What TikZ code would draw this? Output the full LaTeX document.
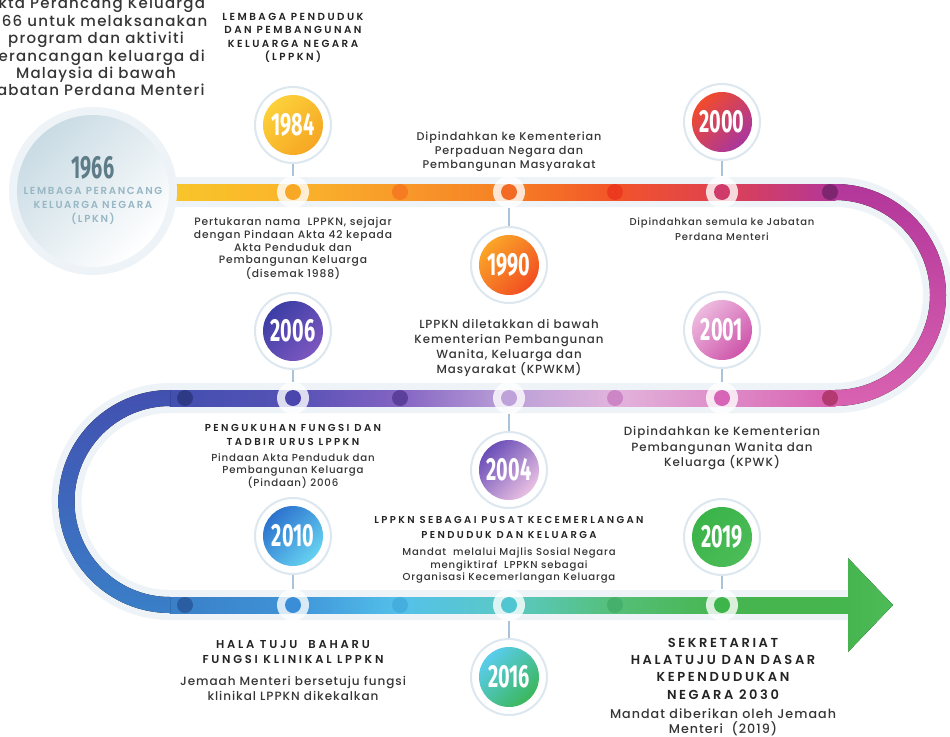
\documentclass[tikz,border=0pt]{standalone}
\usepackage{fontspec}
\setmainfont{Poppins}[UprightFont=* Medium, BoldFont=* SemiBold, LetterSpace=8]
\newfontfamily\yearfont[FakeStretch=0.62]{Fira Sans}

\definecolor{haloGrey}{HTML}{EDF3F6}
\definecolor{ringLine}{HTML}{DCE7EF}
\definecolor{linkBlue}{HTML}{A9C3DA}
\definecolor{ink}{HTML}{353535}
\definecolor{headInk}{HTML}{232323}
\definecolor{disc1966}{HTML}{C9DBE4}
\definecolor{year1966}{HTML}{5E7C88}
\definecolor{sub1966}{HTML}{97B7C4}

\definecolor{ra}{HTML}{F9C82B}
\definecolor{rb}{HTML}{FAB42A}
\definecolor{rc}{HTML}{F8992A}
\definecolor{rd}{HTML}{F67F24}
\definecolor{re}{HTML}{F2542A}
\definecolor{rf}{HTML}{DE4150}
\definecolor{rg}{HTML}{B3369A}
\definecolor{sa}{HTML}{D962B1}
\definecolor{sb}{HTML}{DE8CC8}
\definecolor{sc}{HTML}{E2B4DC}
\definecolor{sd}{HTML}{BBA0D8}
\definecolor{se}{HTML}{8464C3}
\definecolor{sf}{HTML}{5651B5}
\definecolor{sg}{HTML}{4250B0}
\definecolor{ta}{HTML}{3A7FC8}
\definecolor{tb}{HTML}{3F93D8}
\definecolor{tc}{HTML}{54C1EA}
\definecolor{td}{HTML}{5AC9C4}
\definecolor{te}{HTML}{55BF78}
\definecolor{tf}{HTML}{47B54F}
\definecolor{tg}{HTML}{45B54D}

\definecolor{pa}{HTML}{F57C20}
\definecolor{pb}{HTML}{EC3A1F}
\definecolor{pc}{HTML}{7E2570}
\definecolor{pd}{HTML}{B23A70}
\definecolor{pe}{HTML}{CC86C6}
\definecolor{pf}{HTML}{5C3F9A}
\definecolor{pg}{HTML}{2E3A86}
\definecolor{ph}{HTML}{2A5DA2}
\definecolor{pi}{HTML}{45AEDF}
\definecolor{pj}{HTML}{45B06B}

\definecolor{ya}{HTML}{FCD13A}\definecolor{yb}{HTML}{F6A623}\definecolor{yc}{HTML}{F9A825}
\definecolor{yd}{HTML}{FAA528}\definecolor{ye}{HTML}{F24E22}\definecolor{yf}{HTML}{F26A24}
\definecolor{yg}{HTML}{F24B2C}\definecolor{yh}{HTML}{A8369E}\definecolor{yi}{HTML}{CF3A6A}
\definecolor{yj}{HTML}{3B3EA5}\definecolor{yk}{HTML}{7C57BF}\definecolor{yl}{HTML}{4B46AE}
\definecolor{ym}{HTML}{6A4EB8}\definecolor{yn}{HTML}{E9C0E2}\definecolor{yo}{HTML}{BFA2DA}
\definecolor{yp}{HTML}{EDBADF}\definecolor{yq}{HTML}{CE55AB}\definecolor{yr}{HTML}{D864B8}
\definecolor{ys}{HTML}{2C72CE}\definecolor{yt}{HTML}{66D2F1}\definecolor{yu}{HTML}{3A8ED8}
\definecolor{yv}{HTML}{5ACDEE}\definecolor{yw}{HTML}{3BB75A}\definecolor{yx}{HTML}{4FC6D2}
\definecolor{yy}{HTML}{3AB449}\definecolor{yz}{HTML}{4CBC58}\definecolor{y0}{HTML}{3DB54A}

\tikzset{
	trackhalo/.style={draw=haloGrey, line width=30pt},
	trackdot/.style={circle, inner sep=0pt, minimum size=16pt, fill=#1},
	trackring/.style={circle, inner sep=0pt, minimum size=32pt, fill=white, fill opacity=0.8},
	yearring/.style={circle, inner sep=0pt, minimum size=76pt, fill=white, draw=ringLine, line width=2pt},
	yearbadge/.style 2 args={circle, inner sep=0pt, minimum size=60pt, top color=#1, bottom color=#2, shading angle=45, text=white, font=\yearfont\bfseries\fontsize{32}{32}\selectfont},
	linkline/.style={draw=linkBlue, line width=1.2pt},
	note/.style={align=center, inner sep=0pt, anchor=north, text=ink},
	head/.style={note, text=headInk}
}

\begin{document}
\begin{tikzpicture}[x=1pt, y=-1pt]
	\useasboundingbox (0,0) rectangle (950,736);
	\clip (0,0) rectangle (950,736);

	\draw[trackhalo] (150,192) -- (835,192) arc[start angle=-90, end angle=90, radius=103] -- (170,398) arc[start angle=-90, end angle=-270, radius=103.5] -- (850,605);

	\foreach \xa/\xb/\ca/\cb in {150/293.5/ra/rb, 293/400.5/rb/rc, 400/509.5/rc/rd, 509/615.5/rd/re, 615/722.5/re/rf, 722/835.5/rf/rg}
		\fill[left color=\ca, right color=\cb] (\xa,184) rectangle (\xb,200);
	\foreach \xa/\xb/\ca/\cb in {169.5/293.5/sg/sf, 293/400.5/sf/se, 400/509.5/se/sd, 509/615.5/sd/sc, 615/722.5/sc/sb, 722/835.5/sb/sa}
		\fill[left color=\ca, right color=\cb] (\xa,390) rectangle (\xb,406);
	\foreach \xa/\xb/\ca/\cb in {169.5/293.5/ta/tb, 293/400.5/tb/tc, 400/509.5/tc/td, 509/615.5/td/te, 615/722.5/te/tf, 722/852/tf/tg}
		\fill[left color=\ca, right color=\cb] (\xa,597) rectangle (\xb,613);

	\fill[top color=rg, bottom color=sa] (835,184) arc[start angle=-90, end angle=90, radius=111] -- (835,390) arc[start angle=90, end angle=-90, radius=95] -- cycle;
	\fill[top color=sg, bottom color=ta] (170,390) arc[start angle=-90, end angle=-270, radius=111.5] -- (170,597) arc[start angle=-270, end angle=-90, radius=95.5] -- cycle;
	\fill[left color=tf, right color=yz] (848,558) -- (893,605) -- (848,652) -- cycle;

	\foreach \x/\y/\c [count=\i] in {400/192/pa, 615/192/pb, 830/192/pc, 830/398/pd, 615/398/pe, 400/398/pf, 185/398/pg, 185/605/ph, 400/605/pi, 615/605/pj}
		\node[trackdot=\c] (p\i) at (\x,\y) {};

	\foreach \yr/\bx/\by/\ty/\ca/\cb/\cd in {1984/293/125/192/ya/yb/yc, 1990/509/265/192/yd/ye/yf, 2000/722/122/192/yg/yh/yi, 2006/293/331/398/yj/yk/yl, 2004/509/470/398/ym/yn/yo, 2001/722/330/398/yp/yq/yr, 2010/293/536/605/ys/yt/yu, 2016/509/677/605/yv/yw/yx, 2019/722/537/605/yy/yz/y0}
	{
		\node[trackring] (t\yr) at (\bx,\ty) {};
		\node[trackdot=\cd] (d\yr) at (\bx,\ty) {};
		\node[yearring] (r\yr) at (\bx,\by) {};
		\node[yearbadge={\ca}{\cb}] (y\yr) at (\bx,\by) {\yr};
		\draw[linkline] (r\yr) -- (t\yr);
	}

	\node[circle, inner sep=0pt, minimum size=168pt, fill=haloGrey] (o1966) at (93,191) {};
	\node[circle, inner sep=0pt, minimum size=152pt, top color=disc1966, bottom color=white, shading angle=45] (c1966) at (93,191) {};
	\node[text=year1966, font=\yearfont\bfseries\fontsize{32}{32}\selectfont] (y1966) at (93,168) {1966};
	\node[note, text=sub1966, font=\bfseries\fontsize{10.2}{13.9}\selectfont\addfontfeature{LetterSpace=16}] (s1966) at (93,187) {LEMBAGA PERANCANG\\KELUARGA NEGARA\\(LPKN)};

	\node[note, font=\fontsize{15}{17.4}\selectfont] (intro) at (96,-2.5) {Akta Perancang Keluarga\\1966 untuk melaksanakan\\program dan aktiviti\\perancangan keluarga di\\Malaysia di bawah\\Jabatan Perdana Menteri};

	\node[head, font=\bfseries\fontsize{10.3}{13.5}\selectfont\addfontfeature{LetterSpace=24}] (h1984) at (293,13) {LEMBAGA PENDUDUK\\DAN PEMBANGUNAN\\KELUARGA NEGARA\\(LPPKN)};
	\node[note, font=\fontsize{10.7}{12.8}\selectfont] (n1984) at (293,217) {Pertukaran nama~ LPPKN, sejajar\\dengan Pindaan Akta 42 kepada\\Akta Penduduk dan\\Pembangunan Keluarga\\(disemak 1988)};

	\node[note, font=\fontsize{11.2}{14.2}\selectfont] (a1990) at (509,131.5) {Dipindahkan ke Kementerian\\Perpaduan Negara dan\\Pembangunan Masyarakat};
	\node[note, font=\fontsize{11.8}{15.2}\selectfont] (n1990) at (509,319) {LPPKN diletakkan di bawah\\Kementerian Pembangunan\\Wanita, Keluarga dan\\Masyarakat (KPWKM)};

	\node[note, font=\fontsize{10}{14.3}\selectfont] (n2000) at (722,218) {Dipindahkan semula ke Jabatan\\Perdana Menteri};
	\node[note, font=\fontsize{11.9}{15.5}\selectfont] (n2001) at (722,426.5) {Dipindahkan ke Kementerian\\Pembangunan Wanita dan\\Keluarga (KPWK)};

	\node[head, font=\bfseries\fontsize{10.1}{14.3}\selectfont\addfontfeature{LetterSpace=24}] (h2006) at (293,424) {PENGUKUHAN FUNGSI DAN\\TADBIR URUS LPPKN};
	\node[note, font=\fontsize{10.2}{12.5}\selectfont] (n2006) at (293,453) {Pindaan Akta Penduduk dan\\Pembangunan Keluarga\\(Pindaan) 2006};

	\node[head, font=\bfseries\fontsize{10}{14.3}\selectfont\addfontfeature{LetterSpace=24}] (h2004) at (509,516.5) {LPPKN SEBAGAI PUSAT KECEMERLANGAN\\PENDUDUK DAN KELUARGA};
	\node[note, font=\fontsize{10.1}{12.5}\selectfont] (n2004) at (509,548) {Mandat~ melalui Majlis Sosial Negara\\mengiktiraf~ LPPKN sebagai\\Organisasi Kecemerlangan Keluarga};

	\node[head, font=\bfseries\fontsize{11.5}{15.7}\selectfont\addfontfeature{LetterSpace=24}] (h2010) at (293,640) {HALA TUJU~ BAHARU\\FUNGSI KLINIKAL LPPKN};
	\node[note, font=\fontsize{12}{15}\selectfont] (n2010) at (293,676.5) {Jemaah Menteri bersetuju fungsi\\klinikal LPPKN dikekalkan};

	\node[head, font=\bfseries\fontsize{13}{17.2}\selectfont\addfontfeature{LetterSpace=20}] (h2019) at (723,638) {SEKRETARIAT\\HALATUJU DAN DASAR\\KEPENDUDUKAN\\NEGARA 2030};
	\node[note, font=\fontsize{12.7}{15}\selectfont] (n2019) at (723,709) {Mandat diberikan oleh Jemaah\\Menteri~ (2019)};
\end{tikzpicture}
\end{document}
